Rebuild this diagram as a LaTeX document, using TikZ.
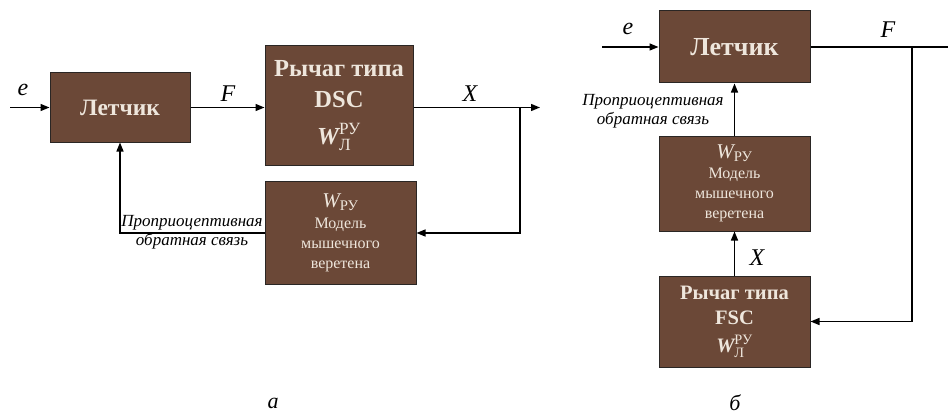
\documentclass[tikz,border=0pt]{standalone}
\usepackage{fontspec}
\usepackage{amsmath}
\setmainfont{Liberation Serif}
\usetikzlibrary{arrows.meta}
\definecolor{boxbrown}{HTML}{6B4837}
\definecolor{boxtext}{HTML}{EEE6DC}
\definecolor{boxedge}{HTML}{2A2624}
\newcommand\fs[1]{\fontsize{#1}{#1}\selectfont}
\newcommand\wlever{$\text{\bfseries\itshape W}^{\textnormal{\mdseries РУ}}_{\textnormal{\mdseries Л}}$}
\newcommand\wspindle{$\text{\itshape W}_{\textnormal{РУ}}$}
\begin{document}
\begin{tikzpicture}[x=1pt,y=-1pt,
  blk/.style={draw=boxedge, fill=boxbrown, text=boxtext, line width=1pt,
    inner sep=0pt, align=center},
  arr/.style={line width=1.4pt, -{Triangle[length=9pt,width=7pt]}},
  wire/.style={line width=1.4pt},
  sig/.style={font=\fs{24}\itshape, inner sep=0pt},
  fbtxt/.style={font=\fontsize{17}{19}\selectfont\itshape, align=center, inner sep=0pt},
  captxt/.style={font=\fs{22}\itshape, inner sep=0pt}]
\useasboundingbox (0,0) rectangle (948,420);

% ---- scheme (a): DSC lever ----
\node[blk, minimum width=140pt, minimum height=69pt, font=\fs{23.5}\bfseries]
  (pilotA) at (120,107.5) {Летчик};
\node[blk, minimum width=148pt, minimum height=119pt,
  font=\fontsize{24.5}{31}\selectfont\bfseries] (leverA) at (339,105.5)
  {Рычаг типа\\DSC\\[6pt]\wlever};
\node[blk, minimum width=151pt, minimum height=103pt,
  font=\fontsize{16}{20}\selectfont] (spindleA) at (340.5,233)
  {\fs{21}\wspindle\\[1pt]Модель\\мышечного\\веретена};

\coordinate (inA) at (10,107.5);
\coordinate (splitA) at (520,107.5);
\coordinate (outA) at (540,107.5);

\draw[arr] (inA) -- (pilotA.west);
\draw[arr] (pilotA.east) -- (pilotA.east -| leverA.west);
\draw[arr] (outA -| leverA.east) -- (outA);
\draw[arr] (splitA) |- (spindleA.east);
\draw[arr] (spindleA.west) -| (pilotA.south);

\node[sig] (eA) at (23,90) {e};
\node[sig] (fA) at (228,94) {F};
\node[sig] (xA) at (470,94) {X};
\node[fbtxt] (fbA) at (192,232) {Проприоцептивная\\обратная связь};

% ---- scheme (b): FSC lever ----
\node[blk, minimum width=151pt, minimum height=72pt, font=\fs{26}\bfseries]
  (pilotB) at (734.5,47) {Летчик};
\node[blk, minimum width=151pt, minimum height=95pt,
  font=\fontsize{16}{20}\selectfont] (spindleB) at (734.5,183.5)
  {\fs{21}\wspindle\\[0pt]Модель\\мышечного\\веретена};
\node[blk, minimum width=151pt, minimum height=91pt,
  font=\fontsize{20.5}{25}\selectfont\bfseries] (leverB) at (734.5,321.5)
  {Рычаг типа\\FSC\\[3pt]\wlever};

\coordinate (inB) at (602,47);
\coordinate (splitB) at (912,47);
\coordinate (outB) at (948,47);

\draw[arr] (inB) -- (pilotB.west);
\draw[wire] (pilotB.east) -- (outB);
\draw[arr] (splitB) |- (leverB.east);
\draw[arr] (leverB.north) -- (spindleB.south);
\draw[arr] (spindleB.north) -- (pilotB.south);

\node[sig] (eB) at (628,29) {e};
\node[sig] (fB) at (888,30) {F};
\node[sig] (xB) at (757,258) {X};
\node[fbtxt] (fbB) at (653,111) {Проприоцептивная\\обратная связь};

% ---- captions ----
\node[captxt] (capA) at (273,403) {а};
\node[captxt] (capB) at (735,403) {б};
\end{tikzpicture}
\end{document}
